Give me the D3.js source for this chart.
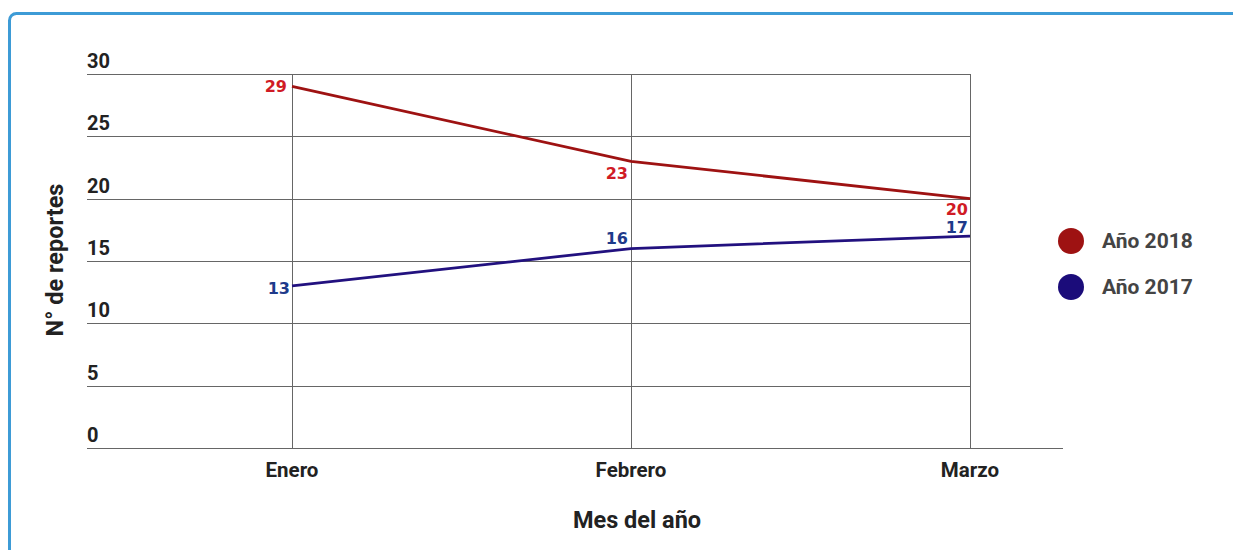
<!DOCTYPE html>
<html><head><meta charset="utf-8">
<script src="https://cdn.jsdelivr.net/npm/d3@7"></script>
<style>body{margin:0;background:#fff;}svg{display:block;}</style>
</head><body>
<script>
const months = ["Enero", "Febrero", "Marzo"];
const values2018 = [29, 23, 20];
const values2017 = [13, 16, 17];
const yTicks = [0, 5, 10, 15, 20, 25, 30];
const seriesNames = ["Año 2018", "Año 2017"];

const W = 1233, H = 550;
const svg = d3.select("body").append("svg").attr("width", W).attr("height", H);

// frame
svg.append("rect").attr("x", 9.5).attr("y", 13.5).attr("width", 1260).attr("height", 600)
  .attr("rx", 7).attr("fill", "none").attr("stroke", "#3d9bd6").attr("stroke-width", 3);

const x = d3.scalePoint().domain(months).range([292, 970]);
const y = d3.scaleLinear().domain([0, 30]).range([448, 74]);

const font = "Roboto, 'Open Sans', sans-serif";
const gridColor = "#666";

// horizontal gridlines
svg.append("g").selectAll("line").data(yTicks.filter(d => d > 0)).join("line")
  .attr("x1", 87).attr("x2", 970)
  .attr("y1", d => Math.round(y(d)) + 0.5).attr("y2", d => Math.round(y(d)) + 0.5)
  .attr("stroke", gridColor).attr("stroke-width", 1);
// baseline
svg.append("line").attr("x1", 87).attr("x2", 1063)
  .attr("y1", Math.round(y(0)) + 0.5).attr("y2", Math.round(y(0)) + 0.5)
  .attr("stroke", gridColor).attr("stroke-width", 1);
// vertical gridlines
svg.append("g").selectAll("line").data(months).join("line")
  .attr("x1", d => Math.round(x(d)) + 0.5).attr("x2", d => Math.round(x(d)) + 0.5)
  .attr("y1", y(30)).attr("y2", y(0))
  .attr("stroke", gridColor).attr("stroke-width", 1);

// y tick labels
svg.append("g").selectAll("text").data(yTicks).join("text")
  .attr("x", 87).attr("y", d => y(d) - 6)
  .attr("font-family", font).attr("font-weight", "bold").attr("font-size", 20)
  .attr("fill", "#222").text(d => d);

// x tick labels
svg.append("g").selectAll("text").data(months).join("text")
  .attr("x", d => x(d)).attr("y", 477).attr("text-anchor", "middle")
  .attr("font-family", font).attr("font-weight", "bold").attr("font-size", 20.5)
  .attr("fill", "#222").text(d => d);

// axis titles
svg.append("text").attr("x", 637).attr("y", 528).attr("text-anchor", "middle")
  .attr("font-family", font).attr("font-weight", "bold").attr("font-size", 23.5)
  .attr("fill", "#222").text("Mes del año");
svg.append("text").attr("transform", "translate(63,260) rotate(-90)").attr("text-anchor", "middle")
  .attr("font-family", font).attr("font-weight", "bold").attr("font-size", 23.5)
  .attr("fill", "#222").text("N° de reportes");

// lines
const line = d3.line().x((d, i) => x(months[i])).y(d => y(d));
svg.append("path").datum(values2018).attr("d", line).attr("fill", "none")
  .attr("stroke", "#9e1212").attr("stroke-width", 2.8);
svg.append("path").datum(values2017).attr("d", line).attr("fill", "none")
  .attr("stroke", "#22117f").attr("stroke-width", 2.8);

// data labels
const lblFont = "'DejaVu Sans', sans-serif";
const off2018 = [6, 18, 16];
const off2017 = [8, -5, -3];
const dx2018 = [-5, -3, -2];
const dx2017 = [-2, -3, -2];
svg.append("g").selectAll("text").data(values2018).join("text")
  .attr("x", (d, i) => x(months[i]) + dx2018[i]).attr("y", (d, i) => y(d) + off2018[i])
  .attr("text-anchor", "end").attr("font-family", lblFont).attr("font-weight", "bold")
  .attr("font-size", 16).attr("fill", "#d01b25").text(d => d);
svg.append("g").selectAll("text").data(values2017).join("text")
  .attr("x", (d, i) => x(months[i]) + dx2017[i]).attr("y", (d, i) => y(d) + off2017[i])
  .attr("text-anchor", "end").attr("font-family", lblFont).attr("font-weight", "bold")
  .attr("font-size", 16).attr("fill", "#1e3a8a").text(d => d);

// legend
const legColors = ["#9e1212", "#1b0c7a"];
const leg = svg.append("g").selectAll("g").data(seriesNames).join("g")
  .attr("transform", (d, i) => `translate(1071,${241 + i * 46})`);
leg.append("circle").attr("r", 13).attr("fill", (d, i) => legColors[i]);
leg.append("text").attr("x", 31).attr("y", 7).attr("font-family", font)
  .attr("font-weight", "bold").attr("font-size", 21).attr("fill", "#444").text(d => d);
</script>
</body></html>
